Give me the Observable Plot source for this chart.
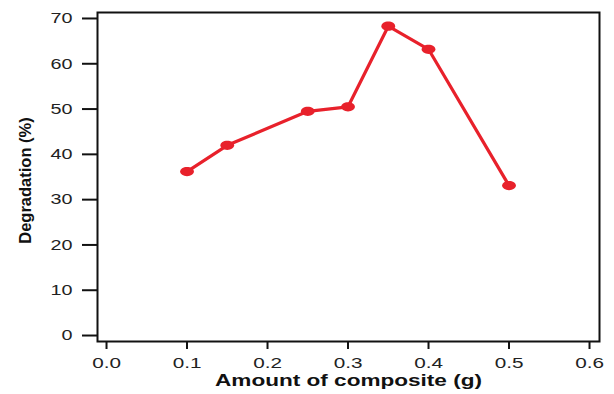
<!DOCTYPE html>
<html>
<head>
<meta charset="utf-8">
<script src="https://cdn.jsdelivr.net/npm/d3@7"></script>
<script src="https://cdn.jsdelivr.net/npm/@observablehq/plot@0.6"></script>
<style>
  html, body { margin: 0; padding: 0; background: #fff; }
  svg { display: block; }
</style>
</head>
<body>
<div id="chart"></div>
<script>
const amounts = [0.1, 0.15, 0.25, 0.3, 0.35, 0.4, 0.5];
const degradation = [36.2, 42.0, 49.5, 50.5, 68.3, 63.2, 33.1];
const xTicks = [0, 0.1, 0.2, 0.3, 0.4, 0.5, 0.6];
const yTicks = [0, 10, 20, 30, 40, 50, 60, 70];
const xTitle = "Amount of composite (g)";
const yTitle = "Degradation (%)";

const data = amounts.map((a, i) => ({x: a, y: degradation[i]}));

const ellipse = {
  draw(ctx, size) {
    const r = Math.sqrt(size / Math.PI);
    const rx = r * 1.5, ry = r, k = 0.5523;
    ctx.moveTo(rx, 0);
    ctx.bezierCurveTo(rx, ry * k, rx * k, ry, 0, ry);
    ctx.bezierCurveTo(-rx * k, ry, -rx, ry * k, -rx, 0);
    ctx.bezierCurveTo(-rx, -ry * k, -rx * k, -ry, 0, -ry);
    ctx.bezierCurveTo(rx * k, -ry, rx, -ry * k, rx, 0);
    ctx.closePath();
  }
};

const red = "#e8212b";

const chart = Plot.plot({
  width: 614,
  height: 394,
  marginLeft: 97,
  marginRight: 15,
  marginTop: 12,
  marginBottom: 53,
  style: {fontFamily: "'Liberation Sans', Arial, sans-serif", background: "#fff"},
  x: {domain: [-0.0112, 0.6124]},
  y: {domain: [-1.32, 71.32]},
  marks: [
    Plot.frame({stroke: "#111", strokeWidth: 2}),
    Plot.axisY({ticks: yTicks, tickSize: 15, tickPadding: 10, fontSize: 15, color: "#222", stroke: "#111", strokeWidth: 2, label: null}),
    Plot.axisX({ticks: xTicks, tickSize: 8, tickPadding: 8, fontSize: 15, color: "#222", stroke: "#111", strokeWidth: 2, tickFormat: d3.format(".1f"), label: null}),
    Plot.line(data, {x: "x", y: "y", stroke: red, strokeWidth: 3.2}),
    Plot.dot(data, {x: "x", y: "y", r: 4.6, symbol: ellipse, fill: red, stroke: "none"}),
    Plot.text([yTitle], {frameAnchor: "left", textAnchor: "middle", lineAnchor: "middle", dx: -72, dy: 3.5, rotate: -90, fontSize: 16.5, fontWeight: "bold", fill: "#111", className: "ytitle"}),
    Plot.text([xTitle], {frameAnchor: "bottom", dy: 44, fontSize: 16, fontWeight: "bold", fill: "#111", className: "xtitle"})
  ]
});

document.getElementById("chart").appendChild(chart);

function stretch(sel, f) {
  chart.querySelectorAll(sel).forEach(t => {
    const L = t.getComputedTextLength();
    t.setAttribute("textLength", (L * f).toFixed(1));
    t.setAttribute("lengthAdjust", "spacingAndGlyphs");
  });
}
stretch('[aria-label="x-axis tick label"] text', 1.38);
stretch('[aria-label="y-axis tick label"] text', 1.32);
stretch('.xtitle text', 1.41);
</script>
</body>
</html>
